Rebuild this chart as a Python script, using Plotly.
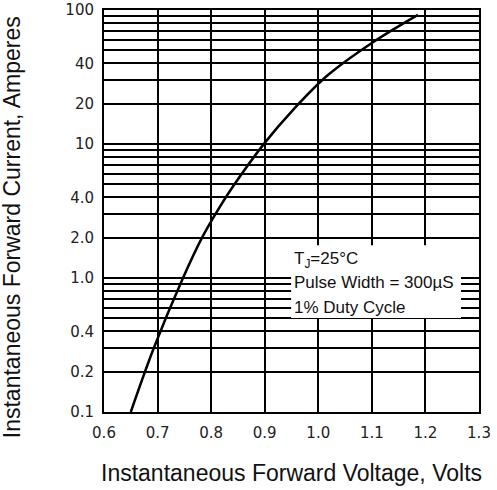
import plotly.graph_objects as go

# Curve data
voltage = [0.650, 0.693, 0.746, 0.783, 0.808, 0.842, 0.900, 0.953, 1.018, 1.100, 1.186]
current = [0.1, 0.3, 0.97, 2.0, 3.0, 4.9, 10.2, 18.0, 32.7, 56.8, 92.0]

# Axis ticks
x_ticks = [0.6, 0.7, 0.8, 0.9, 1.0, 1.1, 1.2, 1.3]
x_ticktext = ["0.6", "0.7", "0.8", "0.9", "1.0", "1.1", "1.2", "1.3"]
y_ticks = [0.1, 0.2, 0.4, 1, 2, 4, 10, 20, 40, 100]
y_ticktext = ["0.1", "0.2", "0.4", "1.0", "2.0", "4.0", "10", "20", "40", "100"]
y_minor_grid = [0.3, 0.5, 0.6, 0.7, 0.8, 0.9,
                3, 5, 6, 7, 8, 9,
                30, 50, 60, 70, 80, 90]

x_title = "Instantaneous Forward Voltage, Volts"
y_title = "Instantaneous Forward Current, Amperes"
note_lines = ["T<sub>J</sub>=25°C", "Pulse Width = 300µS", "1% Duty Cycle"]

title_font = "Liberation Sans, Arial, sans-serif"
tick_font = "DejaVu Sans, sans-serif"

fig = go.Figure()
fig.add_trace(go.Scatter(
    x=voltage, y=current, mode="lines",
    line=dict(color="black", width=2.5, shape="spline", smoothing=1.0),
    showlegend=False, hoverinfo="skip",
))

fig.update_layout(
    width=497, height=490,
    margin=dict(l=104, r=18, t=10, b=78),
    paper_bgcolor="white", plot_bgcolor="white",
    font=dict(family=title_font, color="black"),
    xaxis=dict(
        range=[0.6, 1.3], tickvals=x_ticks, ticktext=x_ticktext,
        showgrid=True, gridcolor="black", gridwidth=2,
        showline=True, linecolor="black", linewidth=2, mirror=True,
        ticks="outside", ticklen=6, tickcolor="rgba(0,0,0,0)",
        tickfont=dict(size=15, color="#222", family=tick_font),
        zeroline=False, automargin=False,
    ),
    yaxis=dict(
        type="log", range=[-1, 2], tickvals=y_ticks, ticktext=y_ticktext,
        showgrid=True, gridcolor="black", gridwidth=1.5,
        minor=dict(tickvals=y_minor_grid, showgrid=True, gridcolor="black",
                   gridwidth=1.5, ticks=""),
        showline=True, linecolor="black", linewidth=2, mirror=True,
        ticks="outside", ticklen=5, tickcolor="rgba(0,0,0,0)",
        tickfont=dict(size=15, color="#222", family=tick_font),
        zeroline=False, automargin=False,
    ),
)

# axis titles
fig.add_annotation(xref="paper", yref="paper", x=0.5, y=-0.152,
                   text=x_title, showarrow=False, xanchor="center", yanchor="middle",
                   font=dict(size=23, color="#111", family=title_font))
fig.add_annotation(xref="paper", yref="paper", x=-0.245, y=0.46,
                   text=y_title, showarrow=False, xanchor="center", yanchor="middle",
                   textangle=-90,
                   font=dict(size=23, color="#111", family=title_font))

# white box behind the note
fig.add_shape(type="rect", xref="paper", yref="paper",
              x0=0.499, x1=0.952, y0=0.234, y1=0.415,
              fillcolor="white", line=dict(width=0), layer="above")

for txt, yp in zip(note_lines, [0.378, 0.321, 0.261]):
    fig.add_annotation(xref="paper", yref="paper", x=0.501, y=yp,
                       text=txt, showarrow=False, xanchor="left", yanchor="middle",
                       font=dict(size=17, family=title_font, color="#111"))

fig.write_html("out.html", config={"displayModeBar": False},
               post_script="document.body.style.margin='0';")
